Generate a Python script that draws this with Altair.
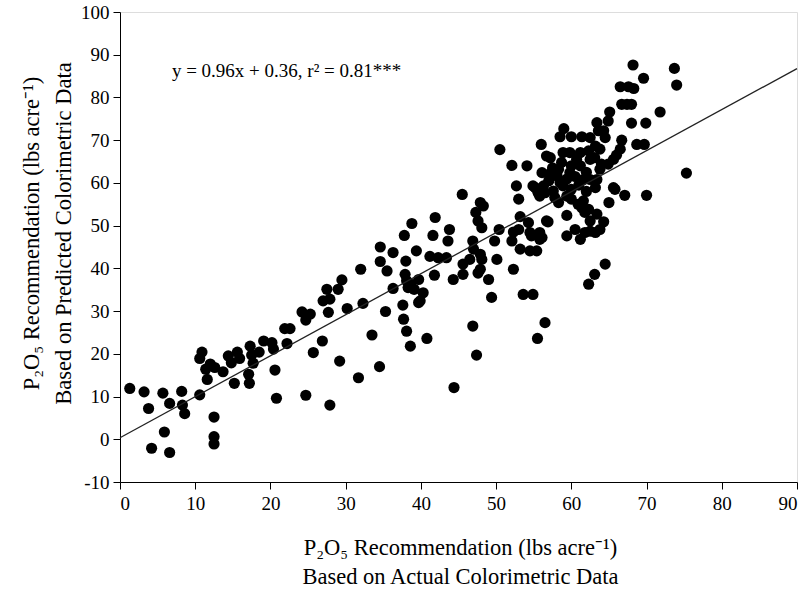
import altair as alt
import pandas as pd

# Actual (x) vs predicted (y) P2O5 recommendation, lbs/acre
x_low = [1.3, 3.2, 3.8, 4.2, 5.7, 5.9, 6.6, 6.6, 8.2, 8.3, 8.6, 10.6, 12.5, 12.5, 12.5,
         10.6, 10.9, 11.4, 11.6, 12.0, 12.6, 13.7, 14.4, 14.8, 15.2, 15.6, 15.9, 17.1, 17.2,
         17.3, 17.5, 17.7, 18.5, 19.1, 20.2, 20.4, 20.6, 20.8, 21.9, 22.6, 22.2, 24.2, 24.7,
         25.3, 24.7, 25.7, 26.9, 27.0, 27.5, 27.7, 27.9, 29.0, 29.2, 30.2]
y_low = [11.9, 11.1, 7.2, -2.1, 10.8, 1.7, 8.4, -3.1, 11.2, 8.0, 6.0, 10.4, 5.2, 0.6, -1.1,
         18.9, 20.4, 16.4, 14.0, 17.6, 16.8, 15.8, 19.5, 17.9, 13.1, 20.4, 18.9, 15.2, 13.1,
         21.8, 19.7, 17.8, 20.4, 23.0, 22.6, 21.1, 16.2, 9.6, 25.9, 25.9, 22.4, 29.8, 27.9,
         29.3, 10.3, 20.3, 23.0, 32.4, 35.1, 29.7, 8.0, 35.1, 18.3, 30.6]

x_mid = [27.9, 29.5, 32.3, 32.0, 33.5, 34.6, 34.6, 35.5, 35.3, 36.3, 31.7, 34.5, 36.3, 37.8,
         38.8, 38.0, 37.9, 38.1, 38.3, 39.4, 39.7, 39.1, 40.3, 39.7, 37.6, 37.7, 38.1, 38.6,
         40.8, 41.8, 41.2, 41.6, 41.9, 42.3, 43.4, 43.8, 43.6, 44.3, 45.5, 45.6, 45.6, 46.5,
         46.9, 47.0, 47.3, 47.9, 48.3, 47.6, 48.1, 47.9, 48.1, 47.9, 49.0, 49.4, 46.9, 47.4,
         44.4, 49.8, 50.1, 50.4, 52.3, 52.1, 52.7, 53.0, 53.0, 53.2, 53.6, 54.9, 54.5, 55.4,
         54.3, 54.5, 55.4, 55.8, 56.7, 56.5, 55.5, 38.6, 39.9, 47.6, 55.8, 50.5, 52.1, 54.1,
         56.7, 56.1, 55.8, 56.5, 56.0, 57.2]
y_mid = [32.8, 37.3, 31.8, 39.8, 24.4, 45.0, 41.6, 39.4, 29.9, 35.3, 14.4, 17.0, 43.7, 47.7,
         50.5, 41.7, 38.6, 37.1, 35.5, 44.1, 37.4, 35.1, 34.3, 32.0, 31.4, 28.1, 25.3, 21.8,
         23.6, 38.4, 42.8, 47.7, 51.9, 42.5, 42.5, 49.1, 46.4, 37.4, 57.3, 38.6, 41.0, 42.1,
         46.4, 44.5, 53.1, 55.4, 54.6, 51.1, 49.5, 43.3, 42.1, 39.8, 37.4, 33.2, 26.5, 19.7,
         12.1, 46.4, 42.1, 49.1, 39.8, 46.4, 59.3, 56.2, 49.1, 44.5, 33.9, 33.9, 44.1, 44.1,
         50.7, 48.4, 58.5, 48.4, 51.1, 27.3, 23.6, 36.3, 32.4, 38.9, 46.8, 67.8, 64.1, 64.0,
         66.3, 62.4, 56.9, 57.7, 69.0, 65.9]

x_high = [68.2, 73.7, 74.0, 69.6, 66.5, 67.6, 68.3, 66.7, 67.4, 68.0, 71.8, 65.1, 64.9, 68.0,
          69.9, 63.4, 64.3, 59.0, 58.5, 60.0, 61.4, 62.5, 63.6, 64.5, 66.7, 68.7, 69.7, 58.9,
          59.8, 61.2, 62.3, 63.8, 66.5, 66.0, 65.6, 64.9, 61.2, 63.1, 64.0, 63.8, 75.3, 63.2,
          58.7, 58.3, 58.1, 58.5, 59.4, 58.9, 59.8, 60.0, 60.7, 62.5, 61.6, 62.5, 63.4, 63.2,
          65.6, 65.8, 67.1, 70.0, 65.0, 59.4, 60.0, 60.9, 61.4, 61.8, 62.3, 62.5, 63.4, 64.3,
          59.4, 59.4, 60.5, 61.2, 61.8, 62.5, 63.2, 63.8, 64.5, 63.1, 62.3, 56.9, 53.2, 52.3,
          54.7, 56.1, 56.3, 55.2, 55.6, 57.6, 57.8, 58.3, 54.9, 61.6, 57.0, 60.5, 61.0, 62.0,
          57.0, 60.0, 62.0, 57.5]
y_high = [87.6, 86.8, 82.9, 84.5, 82.5, 82.5, 82.1, 78.4, 78.4, 78.4, 76.6, 76.6, 74.5, 74.0,
          74.0, 74.1, 72.2, 72.7, 70.8, 70.8, 70.8, 70.6, 72.2, 70.6, 70.0, 69.0, 69.0, 67.1,
          67.1, 67.1, 67.5, 67.9, 67.9, 66.5, 65.5, 64.4, 64.0, 65.9, 64.4, 63.2, 62.3, 68.6,
          64.8, 63.2, 61.6, 60.1, 60.9, 59.3, 62.4, 64.0, 65.5, 65.5, 60.8, 60.8, 60.8, 58.9,
          58.9, 58.5, 57.1, 57.1, 55.4, 56.9, 56.2, 55.0, 54.2, 53.1, 53.8, 51.1, 52.7, 50.9,
          52.4, 47.6, 49.1, 46.8, 48.4, 48.7, 48.4, 49.1, 41.0, 38.6, 36.3, 50.9, 52.1, 48.5,
          47.6, 47.2, 59.3, 58.9, 57.6, 58.1, 56.6, 55.4, 59.3, 55.8, 62.0, 61.5, 59.5, 62.5,
          60.5, 58.5, 58.0, 63.5]

slope = 0.96
intercept = 0.36
line_x = [0, 90]
equation_text = "y = 0.96x + 0.36, r² = 0.81***"

FONT = "Liberation Serif"

pts = pd.DataFrame({"x": x_low + x_mid + x_high, "y": y_low + y_mid + y_high})
fit = pd.DataFrame({"x": line_x, "y": [slope * v + intercept for v in line_x]})
ann = pd.DataFrame({"x": [6.9], "y": [86.1], "t": [equation_text]})

xs = alt.Scale(domain=[0, 90], nice=False, zero=False)
ys = alt.Scale(domain=[-10, 100], nice=False, zero=False)

x_axis = alt.Axis(values=list(range(0, 91, 10)), grid=False, tickSize=7, labelPadding=5,
                  labelFontSize=19, labelFont=FONT, labelColor="black", domainColor="black",
                  tickColor="black", labelExpr="'' + datum.value",
                  title=["P₂O₅ Recommendation (lbs acre⁻¹)", "Based on Actual Colorimetric Data"],
                  titleFont=FONT, titleFontSize=22.5, titleFontWeight="normal", titleColor="black",
                  titleLineHeight=29, titleX=340, titleY=65, titleBaseline="middle",
                  titleAlign="center")
y_axis = alt.Axis(values=list(range(-10, 101, 10)), grid=False, tickSize=7, labelPadding=4,
                  labelFontSize=19, labelFont=FONT, labelColor="black", domainColor="black",
                  tickColor="black", labelExpr="'' + datum.value",
                  title=["P₂O₅ Recommendation (lbs acre⁻¹)", "Based on Predicted Colorimetric Data"],
                  titleFont=FONT, titleFontSize=22.5, titleFontWeight="normal", titleColor="black",
                  titleLineHeight=32, titleX=-89, titleY=221, titleAngle=270,
                  titleBaseline="middle", titleAlign="center")

points = alt.Chart(pts).mark_circle(size=125, color="black", opacity=1).encode(
    x=alt.X("x:Q", scale=xs, axis=x_axis),
    y=alt.Y("y:Q", scale=ys, axis=y_axis),
)
line = alt.Chart(fit).mark_line(color="#222222", strokeWidth=1.3).encode(
    x=alt.X("x:Q", scale=xs), y=alt.Y("y:Q", scale=ys)
)
text = alt.Chart(ann).mark_text(align="left", baseline="middle", font=FONT, fontSize=19,
                                color="black").encode(
    x=alt.X("x:Q", scale=xs), y=alt.Y("y:Q", scale=ys), text="t:N"
)

chart = (points + line + text).properties(
    width=677, height=470,
    padding={"left": 120, "top": 12, "right": 8, "bottom": 108},
    autosize=alt.AutoSizeParams(type="none"),
).configure_view(stroke="black", strokeWidth=1).configure(background="white")

chart.save("out.html", embed_options={"renderer": "svg", "actions": False})
